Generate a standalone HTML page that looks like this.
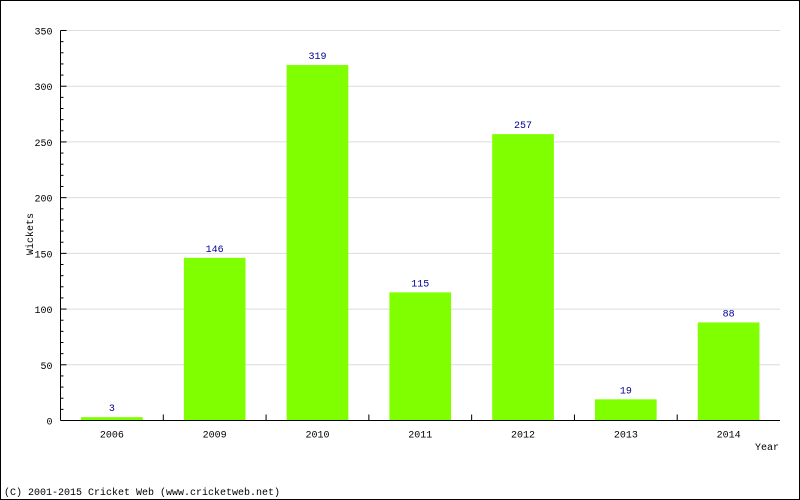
<!DOCTYPE html>
<html><head><meta charset="utf-8"><style>
html,body{margin:0;padding:0;background:#fff}
svg{display:block}
text{font-family:"Liberation Mono","DejaVu Sans Mono",monospace;font-size:10px}
</style></head><body>
<svg id="chart" width="800" height="500">
<rect x="0.5" y="0.5" width="799" height="499" fill="#fff" stroke="#000"/>
<g id="grid"></g><g id="bars"></g><g id="axes"></g>
<text x="24" y="225" transform="rotate(-90 33 225)" text-anchor="middle" fill="#000">Wickets</text>
<text x="779" y="450" text-anchor="end" fill="#000">Year</text>
<text x="4" y="495" fill="#000">(C) 2001-2015 Cricket Web (www.cricketweb.net)</text>
</svg>
<script>
const categories=["2006","2009","2010","2011","2012","2013","2014"];
const values=[3,146,319,115,257,19,88];
const yTicks=[0,50,100,150,200,250,300,350];
const NS="http://www.w3.org/2000/svg";
const L=60.5,R=780,T=30.5,B=420.5,YMAX=350;
const y=v=>B-(v/YMAX)*(B-T);
const band=(R-L)/categories.length;
const x=i=>L+band*i;
function mk(parent,tag,attrs){const e=document.createElementNS(NS,tag);for(const k in attrs)e.setAttribute(k,attrs[k]);document.getElementById(parent).appendChild(e);return e;}
yTicks.forEach(t=>{
  if(t>0){const g=mk("grid","line",{x1:L,x2:R,y1:y(t),y2:y(t),stroke:"#dcdcdc"});
  
  }
  const tk=mk("axes","line",{x1:L,x2:L+6,y1:y(t),y2:y(t),stroke:"#000"});
  
  
  const lb=mk("axes","text",{x:L-8,y:y(t)+4,"text-anchor":"end",fill:"#000"});
  lb.textContent=t;
  
  
});
for(let v=10;v<YMAX;v+=10){if(v%50===0)continue;
  const m=mk("axes","line",{x1:L,x2:L+3,y1:y(v),y2:y(v),stroke:"#000"});
  
  }
const ya=mk("axes","line",{x1:L,x2:L,y1:T,y2:B,stroke:"#000"});


const xa=mk("axes","line",{x1:L,x2:R,y1:B,y2:B,stroke:"#000"});


categories.forEach((c,i)=>{
  const bw=band*0.6,bx=x(i)+band*0.2;
  const r=mk("bars","rect",{x:bx,y:y(values[i]),width:bw,height:B-y(values[i]),fill:"#80ff00"});
  
  
  const vl=mk("bars","text",{x:x(i)+band/2,y:y(values[i])-6,"text-anchor":"middle",fill:"#000099"});
  vl.textContent=values[i];
  
  
  const cl=mk("axes","text",{x:x(i)+band/2,y:B+17,"text-anchor":"middle",fill:"#000"});
  cl.textContent=c;
  
  
  if(i>0){const tk=mk("axes","line",{x1:x(i),x2:x(i),y1:B-6,y2:B,stroke:"#000"});
  
  }
});
</script>
</body></html>
